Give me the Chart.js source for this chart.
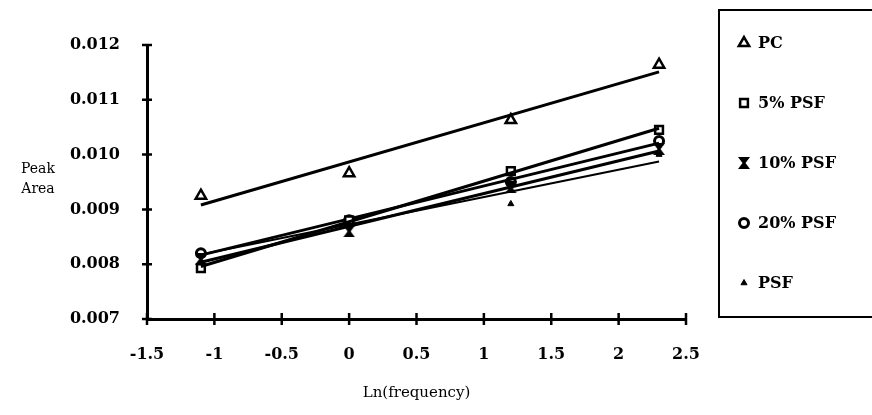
<!DOCTYPE html>
<html>
<head>
<meta charset="utf-8">
<script src="https://cdn.jsdelivr.net/npm/chart.js@4/dist/chart.umd.min.js"></script>
<style>
	html, body { margin: 0; padding: 0; background: #fff; }
	#wrap { width: 872px; height: 415px; position: relative; }
</style>
</head>
<body>
<div id="wrap"><canvas id="chart" width="872" height="415"></canvas></div>
<script>
(function() {
	'use strict';

	// Data
	const lnFreq = [-1.1, 0, 1.2, 2.3];
	const pcArea = [0.00925, 0.00966, 0.01063, 0.01164];
	const psf5Area = [0.00793, 0.0088, 0.0097, 0.01045];
	const psf10Area = [0.0081, 0.0086, 0.0094, 0.0101];
	const psf20Area = [0.0082, 0.0088, 0.0095, 0.01025];
	const psfArea = [0.0082, 0.0088, 0.0091, 0.0100];

	const seriesNames = ['PC', '5% PSF', '10% PSF', '20% PSF', 'PSF'];
	const xTicks = [-1.5, -1, -0.5, 0, 0.5, 1, 1.5, 2, 2.5];
	const yTicks = [0.007, 0.008, 0.009, 0.010, 0.011, 0.012];

	const serif = "'DejaVu Serif', 'Liberation Serif', serif";

	/**
	 * Filled hourglass marker used for 10% PSF.
	 */
	function makeHourglass(size) {
		const c = document.createElement('canvas');
		c.width = size;
		c.height = size;
		const g = c.getContext('2d');
		g.fillStyle = '#000';
		g.beginPath();
		g.moveTo(0, 0);
		g.lineTo(size, 0);
		g.lineTo(size / 2 + 1.5, size / 2);
		g.lineTo(size, size);
		g.lineTo(0, size);
		g.lineTo(size / 2 - 1.5, size / 2);
		g.closePath();
		g.fill();
		return c;
	}

	/**
	 * Least squares line through a series, returned as two end points.
	 */
	function trend(xs, ys) {
		const n = xs.length;
		const mx = xs.reduce(function(a, b) { return a + b; }, 0) / n;
		const my = ys.reduce(function(a, b) { return a + b; }, 0) / n;
		let sxy = 0, sxx = 0;
		for (let i = 0; i < n; i++) {
			sxy += (xs[i] - mx) * (ys[i] - my);
			sxx += (xs[i] - mx) * (xs[i] - mx);
		}
		const slope = sxy / sxx;
		const x0 = xs[0], x1 = xs[n - 1];
		return [
			{ x: x0, y: my + slope * (x0 - mx) },
			{ x: x1, y: my + slope * (x1 - mx) }
		];
	}

	function points(ys) {
		return lnFreq.map(function(x, i) { return { x: x, y: ys[i] }; });
	}

	const hourglass = makeHourglass(12);

	const markers = [
		{ data: pcArea, style: 'triangle', radius: 6, fill: '#fff', border: 2.5, line: 3 },
		{ data: psf5Area, style: 'rect', radius: 5.5, fill: '#fff', border: 2.5, line: 3 },
		{ data: psf10Area, style: hourglass, radius: 6, fill: '#000', border: 0, line: 3 },
		{ data: psf20Area, style: 'circle', radius: 4.5, fill: '#fff', border: 3, line: 3 },
		{ data: psfArea, style: 'triangle', radius: 3.5, fill: '#000', border: 1, line: 2 }
	];

	const datasets = [];
	markers.forEach(function(m, i) {
		datasets.push({
			label: seriesNames[i] + ' trend',
			data: trend(lnFreq, m.data),
			showLine: true,
			borderColor: '#000',
			borderWidth: m.line,
			pointRadius: 0
		});
		datasets.push({
			label: seriesNames[i],
			data: points(m.data),
			showLine: false,
			pointStyle: m.style,
			pointRadius: m.radius,
			pointBackgroundColor: m.fill,
			pointBorderColor: '#000',
			pointBorderWidth: m.border
		});
	});

	// Tick marks that cross the axes
	const crossTicks = {
		id: 'crossTicks',
		afterDraw: function(chart) {
			const ctx = chart.ctx;
			const area = chart.chartArea;
			const xs = chart.scales.x;
			const ys = chart.scales.y;
			ctx.save();
			ctx.strokeStyle = '#000';
			ctx.lineWidth = 2.5;
			ctx.beginPath();
			yTicks.forEach(function(v) {
				const y = ys.getPixelForValue(v);
				ctx.moveTo(area.left - 5, y);
				ctx.lineTo(area.left + 5, y);
			});
			xTicks.forEach(function(v) {
				const x = xs.getPixelForValue(v);
				ctx.moveTo(x, area.bottom - 6);
				ctx.lineTo(x, area.bottom + 6);
			});
			ctx.stroke();
			ctx.restore();
		}
	};

	// "Peak Area" y title and the boxed legend on the right
	const sideText = {
		id: 'sideText',
		afterDraw: function(chart) {
			const ctx = chart.ctx;
			ctx.save();
			ctx.fillStyle = '#000';
			ctx.font = '14px ' + serif;
			ctx.textAlign = 'center';
			ctx.textBaseline = 'middle';
			ctx.fillText('Peak', 38, 169);
			ctx.fillText('Area', 38, 189);

			ctx.strokeStyle = '#000';
			ctx.lineWidth = 2;
			ctx.strokeRect(719, 10, 170, 307);

			const rowY = [43, 103, 163, 223, 283];
			ctx.font = 'bold 16px ' + serif;
			ctx.textAlign = 'left';
			markers.forEach(function(m, i) {
				ctx.fillStyle = m.fill;
				ctx.strokeStyle = '#000';
				ctx.lineWidth = m.border;
				Chart.helpers.drawPoint(ctx, {
					pointStyle: m.style,
					radius: m.radius,
					borderWidth: m.border,
					rotation: 0
				}, 744, rowY[i]);
				ctx.fillStyle = '#000';
				ctx.fillText(seriesNames[i], 758, rowY[i] + 1);
			});
			ctx.restore();
		}
	};

	const tickFont = { family: serif, size: 16, weight: 'bold' };

	new Chart(document.getElementById('chart').getContext('2d'), {
		type: 'scatter',
		data: { datasets: datasets },
		options: {
			responsive: false,
			animation: false,
			layout: { padding: { top: 45, right: 186, bottom: 0, left: 0 } },
			plugins: {
				legend: { display: false },
				tooltip: { enabled: false }
			},
			scales: {
				x: {
					type: 'linear',
					min: -1.5,
					max: 2.5,
					afterFit: function(scale) { scale.height = 96; },
					afterBuildTicks: function(scale) {
						scale.ticks = xTicks.map(function(v) { return { value: v }; });
					},
					ticks: {
						color: '#000',
						font: tickFont,
						padding: 18,
						maxRotation: 0,
						callback: function(v) { return String(v); }
					},
					grid: { display: false },
					border: { display: true, color: '#000', width: 3 },
					title: {
						display: true,
						text: 'Ln(frequency)',
						color: '#000',
						font: { family: serif, size: 15 },
						padding: { top: 0, bottom: 13 }
					}
				},
				y: {
					type: 'linear',
					min: 0.007,
					max: 0.012,
					afterFit: function(scale) { scale.width = 147; },
					afterBuildTicks: function(scale) {
						scale.ticks = yTicks.map(function(v) { return { value: v }; });
					},
					ticks: {
						color: '#000',
						font: tickFont,
						padding: 19,
						callback: function(v) { return v.toFixed(3); }
					},
					grid: { display: false },
					border: { display: true, color: '#000', width: 3 }
				}
			}
		},
		plugins: [crossTicks, sideText]
	});
})();
</script>
</body>
</html>
